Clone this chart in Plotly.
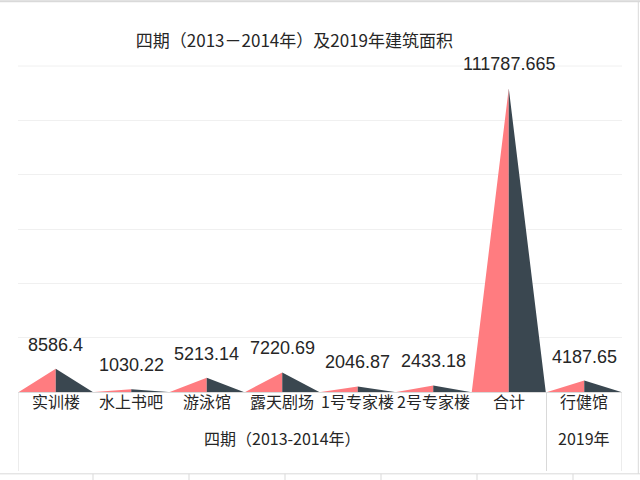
import plotly.graph_objects as go

# categories and areas
buildings = ["实训楼", "水上书吧", "游泳馆", "露天剧场", "1号专家楼", "2号专家楼", "合计", "行健馆"]
areas = [8586.4, 1030.22, 5213.14, 7220.69, 2046.87, 2433.18, 111787.665, 4187.65]
groups = ["四期（2013-2014年）", "2019年"]
group_sizes = [7, 1]

pink = "#FF7C80"
slate = "#3A4750"
half = 0.49

# each bar is a pyramid: left face pink, right face dark
lx, ly, rx, ry = [], [], [], []
for i, v in enumerate(areas):
    lx += [i - half, i, i, i - half, None]
    ly += [0, v, 0, 0, None]
    rx += [i, i, i + half, i, None]
    ry += [0, v, 0, 0, None]

fig = go.Figure()
fig.add_trace(go.Scatter(x=lx, y=ly, mode="lines", fill="toself", fillcolor=pink,
                         line=dict(width=0, color=pink), hoverinfo="skip"))
fig.add_trace(go.Scatter(x=rx, y=ry, mode="lines", fill="toself", fillcolor=slate,
                         line=dict(width=0, color=slate), hoverinfo="skip"))

num_font = dict(family="Liberation Sans, Noto Sans CJK SC", size=18, color="#262626")
cjk_font = dict(family="Noto Sans CJK SC, Liberation Sans", size=16, color="#262626")

annotations = []
for i, v in enumerate(areas):
    annotations.append(dict(x=i, y=v, text=str(v), showarrow=False, yshift=24,
                            font=num_font, xref="x", yref="y"))
    annotations.append(dict(x=i, y=0, text=buildings[i], showarrow=False, yshift=-23,
                            font=cjk_font, xref="x", yref="paper"))

shapes = []
start = 0
bounds = [-0.5]
for g, n in zip(groups, group_sizes):
    mid = start + (n - 1) / 2
    annotations.append(dict(x=mid, y=0, text=g, showarrow=False, yshift=-60,
                            font=cjk_font, xref="x", yref="paper"))
    start += n
    bounds.append(start - 0.5)

for b in bounds:
    shapes.append(dict(type="line", xref="x", yref="paper", ysizemode="pixel", yanchor=0,
                       x0=b, x1=b, y0=0, y1=-79, line=dict(color="#D9D9D9", width=1)))

# top gridline sits on the range edge, draw it by hand
shapes.append(dict(type="line", xref="paper", yref="paper", x0=0, x1=1, y0=1, y1=1,
                   line=dict(color="#F0F0F0", width=1), layer="below"))

# spreadsheet frame around the picture
shapes.append(dict(type="line", xref="paper", yref="paper", x0=-0.03, x1=1.03, y0=-0.251, y1=-0.251,
                   line=dict(color="#D9D9D9", width=1)))
for c in range(1, 7):
    xp = (c * 96 - 3 - 18) / 604
    shapes.append(dict(type="line", xref="paper", yref="paper", x0=xp, x1=xp, y0=-0.251, y1=-0.3,
                       line=dict(color="#D9D9D9", width=1)))
shapes.append(dict(type="line", xref="paper", yref="paper", x0=-0.03, x1=1.03, y0=1.199, y1=1.199,
                   line=dict(color="#D9D9D9", width=2)))
shapes.append(dict(type="line", xref="paper", yref="paper", x0=1.027, x1=1.027, y0=1.2, y1=-0.251,
                   line=dict(color="#D9D9D9", width=1)))

fig.update_layout(
    title=dict(text="四期（2013－2014年）及2019年建筑面积", x=0.46, xanchor="center",
               y=0.915, yanchor="middle", font=dict(family="Noto Sans CJK SC", size=17, color="#262626")),
    showlegend=False,
    plot_bgcolor="white",
    paper_bgcolor="white",
    margin=dict(l=18, r=18, t=66, b=88),
    xaxis=dict(range=[-0.5, 7.5], showticklabels=False, showgrid=False, zeroline=False,
               showline=True, linecolor="#D9D9D9", fixedrange=True),
    yaxis=dict(range=[0, 120000], dtick=20000, showticklabels=False, gridcolor="#F0F0F0",
               zeroline=False, fixedrange=True),
    annotations=annotations,
    shapes=shapes,
)

# drop the page margin so the figure fills the whole window
fix_margin = "document.body.style.margin='0';document.documentElement.style.overflow='hidden';Plotly.Plots.resize(document.getElementById('{plot_id}'));"
fig.write_html("out.html", post_script=fix_margin, config={"displayModeBar": False})
